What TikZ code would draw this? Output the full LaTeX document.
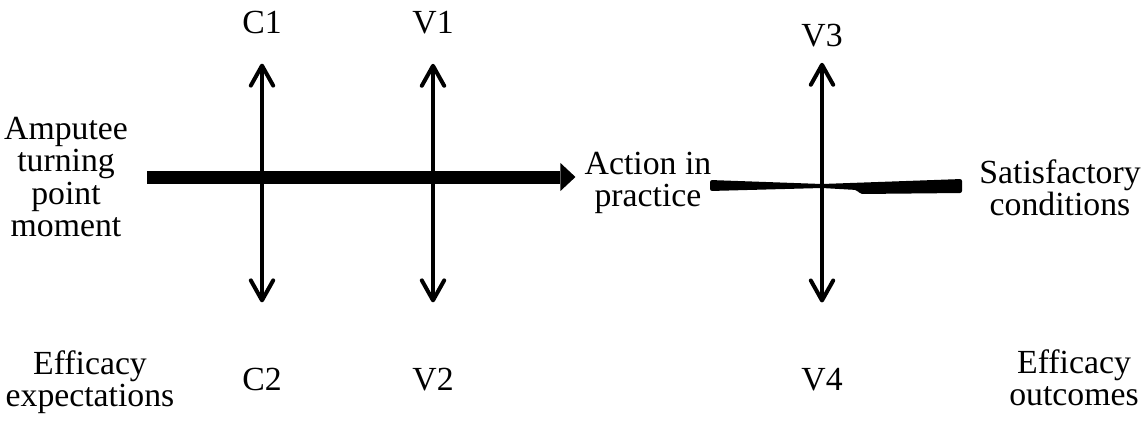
\documentclass[tikz,border=0pt]{standalone}
\usepackage{fontspec}
\setmainfont{Liberation Serif}
\usetikzlibrary{arrows.meta,positioning,calc}
\definecolor{InkBlack}{HTML}{000000}
\tikzset{
  phase/.style={font=\fontsize{24}{22.8}\selectfont\color{InkBlack}, align=center,
                inner sep=0pt},
  tag/.style={font=\fontsize{24}{22.8}\selectfont\color{InkBlack}, anchor=base,
              inner sep=0pt},
  mainarrow/.style={-{Triangle[length=0.375cm,width=0.7cm,line width=0pt]},
                    line width=0.325cm, InkBlack},
  dblarrow/.style={{Straight Barb[length=0.5cm,width=0.56cm,round]}-{Straight Barb[length=0.5cm,width=0.56cm,round]},
                   line width=0.1cm, InkBlack},
}

\begin{document}
\begin{tikzpicture}[x=0.025cm, y=-0.025cm]
  \useasboundingbox (0,0) rectangle (1141,421);

  % phases
  \node[phase] (amp) at (66,177) {Amputee\\turning\\point\\moment};
  \node[phase] (act) at (648,183) {Action in\\practice};
  \node[phase] (sat) at (1060,188) {Satisfactory\\conditions};
  \node[phase] (expect) at (90,382) {Efficacy\\expectations};
  \node[phase] (outcome) at (1074,378) {Efficacy\\outcomes};

  % variables above and below
  \node[tag] (c1) at (262,33) {C1};
  \node[tag] (v1) at (433,33) {V1};
  \node[tag] (v3) at (822,46) {V3};
  \node[tag] (c2) at (262,390) {C2};
  \node[tag] (v2) at (433,390) {V2};
  \node[tag] (v4) at (822,390) {V4};

  % main flow
  \draw[mainarrow] ([xshift=0.475cm]amp.east) -- ([xshift=-0.225cm]act.west |- amp.east);

  % right-hand bar, narrowing at V3/V4
  \fill[InkBlack, rounded corners=1.5pt] (710,180) -- (822,184) -- (962,179) -- (962,193)
        -- (860,194) -- (857,190) -- (822,188) -- (710,191) -- cycle;

  % double arrows
  \draw[dblarrow, shorten <=0.75cm, shorten >=1.625cm] (c1.south) -- (c2.north);
  \draw[dblarrow, shorten <=0.75cm, shorten >=1.625cm] (v1.south) -- (v2.north);
  \draw[dblarrow, shorten <=0.4cm, shorten >=1.625cm] (v3.south) -- (v4.north);

\end{tikzpicture}
\end{document}
